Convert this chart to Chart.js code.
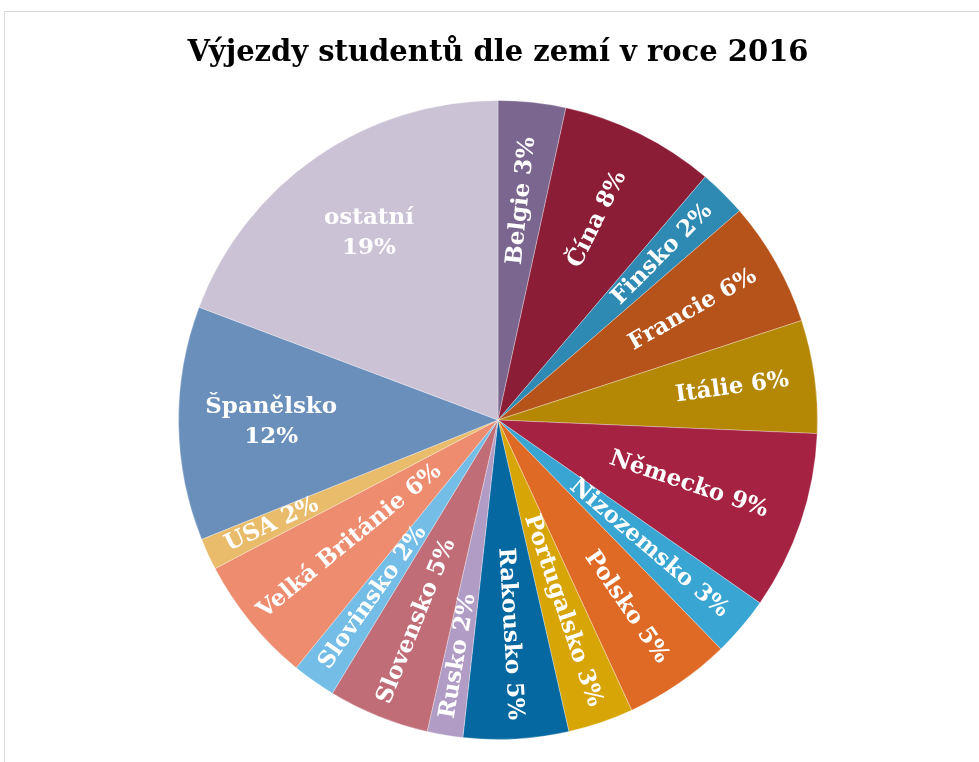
<!DOCTYPE html>
<html lang="cs">
<head>
<meta charset="utf-8">
<title>Výjezdy studentů dle zemí v roce 2016</title>
<script src="https://cdn.jsdelivr.net/npm/chart.js@4.4.1/dist/chart.umd.min.js"></script>
<style>
  html, body { margin: 0; padding: 0; background: #fff; }
  #wrap { position: relative; width: 979px; height: 762px; overflow: hidden; }
  #frame { position: absolute; left: 4px; top: 11px; width: 1200px; height: 1000px; border: 1px solid #d9d9d9; }
  #myChart { position: absolute; left: 0; top: 0; }
</style>
</head>
<body>
<div id="wrap">
  <div id="frame"></div>
  <canvas id="myChart" width="979" height="762"></canvas>
</div>
<script>
// countries, clockwise from 12 o'clock
var countries = ["Belgie", "Čína", "Finsko", "Francie", "Itálie", "Německo", "Nizozemsko", "Polsko",
                 "Portugalsko", "Rakousko", "Rusko", "Slovensko", "Slovinsko", "Velká Británie", "USA",
                 "Španělsko", "ostatní"];
// share of departures (%)
var shares = [3.4, 7.8, 2.4, 6.3, 5.7, 9.0, 3.0, 5.4, 3.3, 5.3, 1.8, 5.1, 2.2, 6.4, 1.6, 11.8, 19.2];

var colors = ["#7b6690", "#8c1d36", "#2e8ab2", "#b5531b", "#b48705", "#a62242", "#38a5d3", "#df6a26",
              "#d8a507", "#0668a1", "#b19cc6", "#c16d77", "#73bde6", "#ee8c6f", "#e9bc6b", "#6a8fbb", "#cbc2d6"];
// where each label sits, as a fraction of the radius
var labelRadius = [0.69, 0.70, 0.73, 0.70, 0.74, 0.63, 0.62, 0.71, 0.63, 0.67, 0.75, 0.68, 0.68, 0.60, 0.78, 0.71, 0.71];
var flatLabels = ["Španělsko", "ostatní"];

var labelFont = 'bold 23px "DejaVu Serif"';

var sliceLabels = {
	id: 'sliceLabels',
	afterDatasetsDraw: function(chart) {
		var ctx = chart.ctx;
		var meta = chart.getDatasetMeta(0);
		var total = shares.reduce(function(a, b) { return a + b; }, 0);
		ctx.save();
		ctx.fillStyle = '#fff';
		ctx.font = labelFont;
		ctx.textAlign = 'center';
		ctx.textBaseline = 'middle';
		meta.data.forEach(function(arc, i) {
			var p = arc.getProps(['x', 'y', 'startAngle', 'endAngle', 'outerRadius'], true);
			var mid = (p.startAngle + p.endAngle) / 2;
			var r = p.outerRadius * labelRadius[i];
			var pct = Math.round(shares[i] / total * 100) + '%';
			ctx.save();
			ctx.translate(p.x + Math.cos(mid) * r, p.y + Math.sin(mid) * r);
			if (flatLabels.indexOf(countries[i]) >= 0) {
				ctx.fillText(countries[i], 0, -15);
				ctx.fillText(pct, 0, 15);
			} else {
				ctx.rotate(Math.cos(mid) < 0 ? mid + Math.PI : mid);
				ctx.fillText(countries[i] + ' ' + pct, 0, 0);
			}
			ctx.restore();
		});
		ctx.restore();
	}
};

var ctx = document.getElementById('myChart').getContext('2d');
var myPieChart = new Chart(ctx, {
	type: 'pie',
	data: {
		labels: countries,
		datasets: [{
			label: "Výjezdy studentů",
			data: shares,
			backgroundColor: colors,
			borderColor: 'rgba(255,255,255,0.3)',
			borderWidth: 1
		}]
	},
	options: {
		responsive: false,
		animation: false,
		layout: { padding: { left: 17, right: 0, top: 0, bottom: 22 } },
		plugins: {
			legend: { display: false },
			tooltip: { enabled: false },
			title: {
				display: true,
				text: "Výjezdy studentů dle zemí v roce 2016",
				color: '#000',
				font: { family: 'DejaVu Serif', size: 29, weight: 'bold' },
				padding: { top: 36, bottom: 29.2 }
			}
		}
	},
	plugins: [sliceLabels]
});
</script>
</body>
</html>
